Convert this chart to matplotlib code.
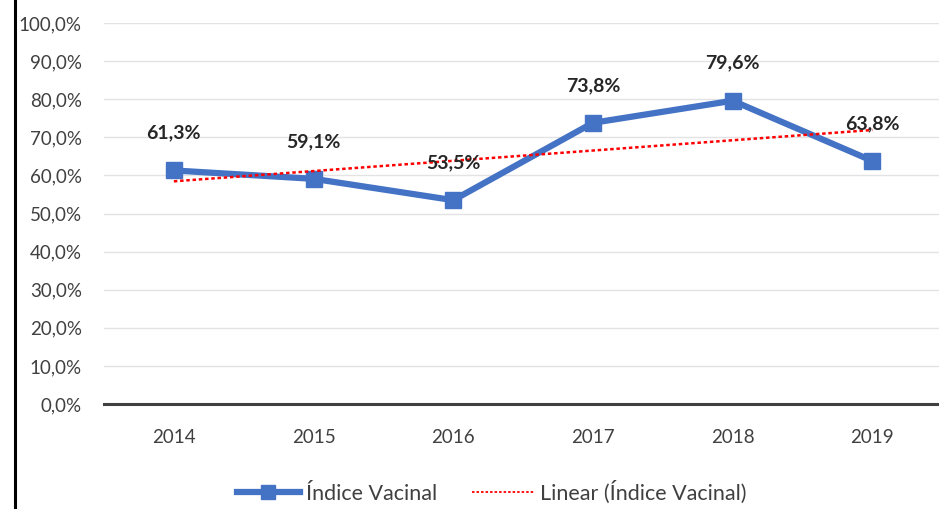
import numpy as np
import matplotlib
matplotlib.use('Agg')
from matplotlib import pyplot as plt
from matplotlib.lines import Line2D

years = ['2014', '2015', '2016', '2017', '2018', '2019']
indice = [61.3, 59.1, 53.5, 73.8, 79.6, 63.8]
yticks = [0, 10, 20, 30, 40, 50, 60, 70, 80, 90, 100]

plt.rcParams['font.family'] = ['Lato', 'DejaVu Sans']

blue = '#4472C4'
red = '#FF0000'
txt = '#404040'

fig = plt.figure(figsize=(9.39, 5.09), dpi=100)
ax = fig.add_axes([104/939, 105/509, 835/939, 381/509])

x = np.arange(len(years))
ax.plot(x, indice, color=blue, lw=4.5, marker='s', ms=11, zorder=3, clip_on=False)

# linha de tendencia linear
a, b = np.polyfit(x, indice, 1)
ax.plot(x, a*x + b, color=red, lw=1.8, ls=(0, (1.4, 1.1)), zorder=4)

for xi, v in zip(x, indice):
    ax.annotate(f'{v:.1f}%'.replace('.', ','), (xi, v), xytext=(0, 27),
                textcoords='offset points', ha='center', va='center',
                fontsize=14, fontweight='bold', color='#262626', zorder=5)

ax.set_xlim(-0.5, 5.477)
ax.set_ylim(0, 100)
ax.set_xticks(x)
ax.set_xticklabels(years)
ax.set_yticks(yticks)
ax.set_yticklabels([f'{t:.1f}%'.replace('.', ',') for t in yticks])
ax.tick_params(length=0, labelsize=13.5, colors=txt)
ax.tick_params(axis='y', pad=16)
ax.tick_params(axis='x', pad=18)
ax.grid(axis='y', color='#e3e3e3', lw=1)
ax.set_axisbelow(True)
for s in ['top', 'right', 'left']:
    ax.spines[s].set_visible(False)
ax.spines['bottom'].set_color('#404040')
ax.spines['bottom'].set_linewidth(2.2)

# borda esquerda
fig.add_artist(Line2D([15/939, 15/939], [0, 1], color='black', lw=2.2))

handles = [Line2D([], [], color=blue, lw=4.5, marker='s', ms=10),
           Line2D([], [], color=red, lw=1.3, ls=(0, (1.4, 1.1)))]
fig.legend(handles, ['Índice Vacinal', 'Linear (Índice Vacinal)'],
           loc='center', bbox_to_anchor=(492/939, 17/509), ncol=2,
           frameon=False, fontsize=15.5, handlelength=2.9, handletextpad=0.3,
           columnspacing=1.6, labelcolor=txt)

plt.savefig('out.png', dpi=100)
